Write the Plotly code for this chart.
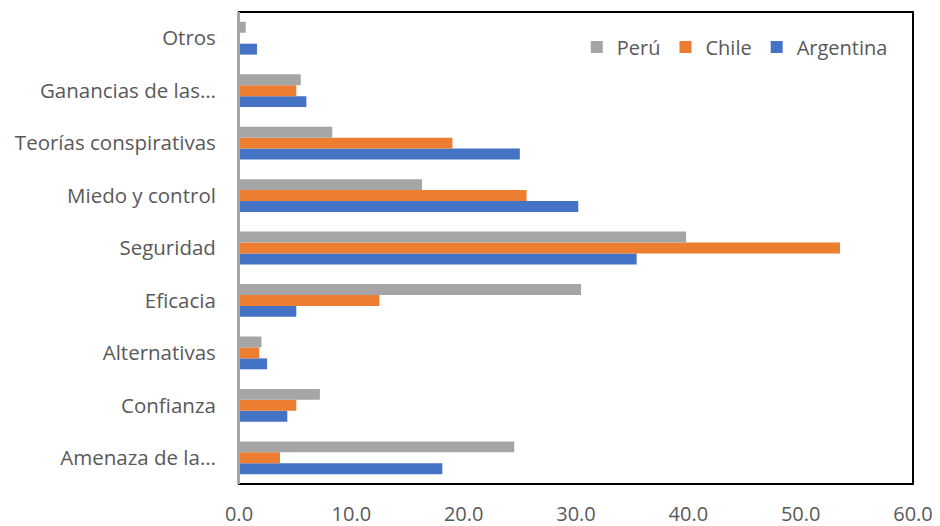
import plotly.graph_objects as go

# Categories listed bottom to top
categorias = [
    "Amenaza de la…",
    "Confianza",
    "Alternativas",
    "Eficacia",
    "Seguridad",
    "Miedo y control",
    "Teorías conspirativas",
    "Ganancias de las…",
    "Otros",
]

argentina = [18.1, 4.3, 2.5, 5.1, 35.4, 30.2, 25.0, 6.0, 1.6]
chile = [3.65, 5.1, 1.8, 12.5, 53.5, 25.6, 19.0, 5.1, 0.0]
peru = [24.5, 7.2, 2.0, 30.45, 39.8, 16.3, 8.3, 5.5, 0.6]

series = [
    ("Argentina", argentina, "#4472C4"),
    ("Chile", chile, "#ED7D31"),
    ("Perú", peru, "#A5A5A5"),
]

x_ticks = [0, 10, 20, 30, 40, 50, 60]

fig = go.Figure()
for nombre, valores, color in series:
    fig.add_trace(
        go.Bar(
            y=categorias,
            x=valores,
            name=nombre,
            orientation="h",
            marker=dict(color=color, line=dict(width=0)),
        )
    )

fig.update_layout(
    width=940,
    height=526,
    margin=dict(l=239, r=27, t=12, b=42, autoexpand=False),
    paper_bgcolor="white",
    plot_bgcolor="white",
    barmode="group",
    bargap=0.375,
    bargroupgap=0,
    font=dict(family="Open Sans, sans-serif", color="#595959"),
    legend=dict(
        orientation="h",
        traceorder="reversed",
        x=0.97,
        xanchor="right",
        y=0.967,
        yanchor="top",
        font=dict(size=20, color="#595959"),
        bgcolor="rgba(0,0,0,0)",
        itemwidth=30,
    ),
    showlegend=True,
)

fig.update_xaxes(
    range=[0, 60],
    tickvals=x_ticks,
    ticktext=[f"{v:.1f}" for v in x_ticks],
    showgrid=False,
    zeroline=False,
    showline=False,
    ticks="outside",
    ticklen=0,
    ticklabelstandoff=12,
    automargin=False,
    tickfont=dict(size=20, color="#595959", family="Open Sans, sans-serif"),
)

fig.update_yaxes(
    categoryorder="array",
    categoryarray=categorias,
    showgrid=False,
    zeroline=False,
    showline=True,
    linecolor="#A6A6A6",
    linewidth=2,
    ticks="outside",
    ticklen=0,
    ticklabelstandoff=17,
    automargin=False,
    tickfont=dict(size=20.5, color="#595959", family="Open Sans, sans-serif"),
)

# Plot-area frame
fig.add_shape(
    type="rect",
    xref="paper",
    yref="paper",
    x0=0,
    y0=0,
    x1=1,
    y1=1,
    line=dict(color="black", width=2),
    layer="below",
)
fig.add_shape(
    type="line",
    xref="paper",
    yref="paper",
    x0=0,
    y0=0,
    x1=0,
    y1=1,
    line=dict(color="#A6A6A6", width=2),
)

fig.write_html("out.html")
